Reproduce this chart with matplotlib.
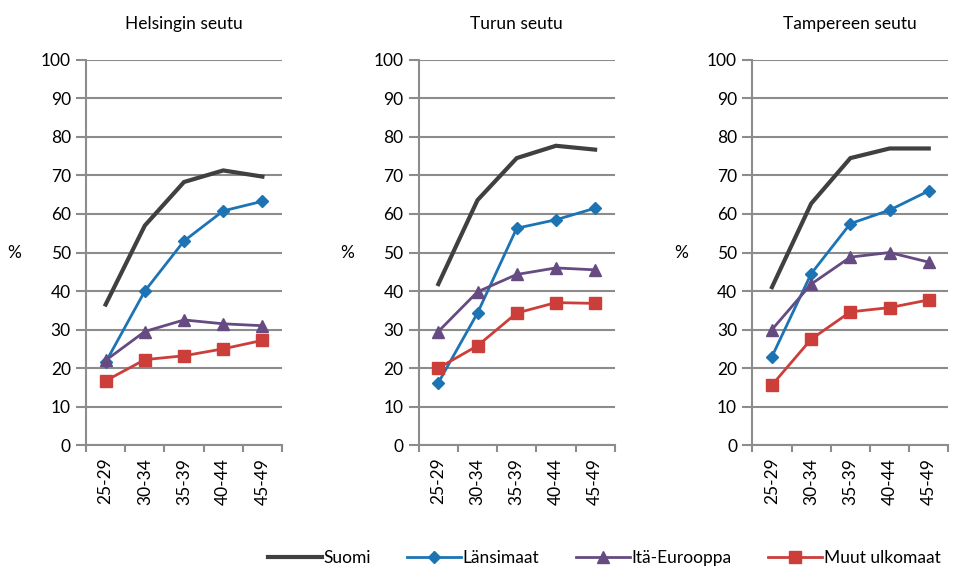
import matplotlib.pyplot as plt
from matplotlib.ticker import FixedLocator

plt.rcParams['font.family'] = ['Lato', 'DejaVu Sans']

ikaryhmat = ['25-29', '30-34', '35-39', '40-44', '45-49']
alueet = ['Helsingin seutu', 'Turun seutu', 'Tampereen seutu']
sarjat = ['Suomi', 'Länsimaat', 'Itä-Eurooppa', 'Muut ulkomaat']

# arvot luettu kuvasta, alueittain
suomi = [[36.5, 57.0, 68.3, 71.3, 69.7],
         [41.8, 63.6, 74.5, 77.7, 76.7],
         [41.0, 62.7, 74.5, 77.0, 77.0]]
lansimaat = [[21.5, 40.0, 53.0, 60.8, 63.3],
             [16.2, 34.3, 56.3, 58.5, 61.5],
             [23.0, 44.5, 57.5, 61.0, 66.0]]
ita_eurooppa = [[22.0, 29.5, 32.5, 31.5, 31.0],
                [29.5, 39.8, 44.3, 46.0, 45.5],
                [30.0, 41.8, 48.8, 50.0, 47.5]]
muut = [[16.7, 22.2, 23.2, 25.0, 27.2],
        [20.0, 25.8, 34.3, 37.0, 36.8],
        [15.6, 27.5, 34.6, 35.7, 37.7]]

tyylit = [
    dict(color='#404040', lw=3.0, marker=None),
    dict(color='#1c74b4', lw=2.0, marker='D', ms=6.5),
    dict(color='#664b82', lw=2.0, marker='^', ms=8.5),
    dict(color='#cc3e3a', lw=2.0, marker='s', ms=8),
]

fig = plt.figure(figsize=(9.56, 5.7), dpi=100)
vasen = [0.090, 0.438, 0.787]
grid_c = '#8c8c8c'
fs = 12.5
x = list(range(len(ikaryhmat)))

handles = []
for i, alue in enumerate(alueet):
    ax = fig.add_axes([vasen[i], 0.219, 0.205, 0.676])
    for data, st, nimi in zip([suomi, lansimaat, ita_eurooppa, muut], tyylit, sarjat):
        h, = ax.plot(x, data[i], color=st['color'], lw=st['lw'], marker=st['marker'],
                     ms=st.get('ms', 0), mec=st['color'], mfc=st['color'],
                     label=nimi, solid_joinstyle='miter', zorder=3)
        if i == 0:
            handles.append(h)
    ax.set_xlim(-0.5, 4.5)
    ax.set_ylim(0, 100)
    ax.set_yticks(range(0, 101, 10))
    ax.set_xticks(x)
    ax.set_xticklabels(ikaryhmat, rotation=90, fontsize=fs)
    ax.xaxis.set_minor_locator(FixedLocator([-0.5, 0.5, 1.5, 2.5, 3.5, 4.5]))
    ax.tick_params(axis='x', which='major', length=0, pad=9)
    ax.tick_params(axis='x', which='minor', length=5, color=grid_c, width=1.5)
    ax.tick_params(axis='y', length=7, color=grid_c, width=1.5, labelsize=fs, pad=4)
    ax.grid(axis='y', color=grid_c, lw=1.5, zorder=0)
    ax.set_axisbelow(True)
    for s in ['top', 'right']:
        ax.spines[s].set_visible(False)
    for s in ['left', 'bottom']:
        ax.spines[s].set_color(grid_c)
        ax.spines[s].set_linewidth(1.5)
    ax.set_title(alue, fontsize=fs, pad=22)
    ax.set_ylabel('%', rotation=0, fontsize=fs, labelpad=19, va='center')

fig.legend(handles=handles, labels=sarjat, loc='lower right', ncol=4,
           bbox_to_anchor=(1.0, -0.02), frameon=False, fontsize=fs,
           handlelength=3.1, handletextpad=0.1, columnspacing=2.1)

fig.savefig('out.png', dpi=100)
